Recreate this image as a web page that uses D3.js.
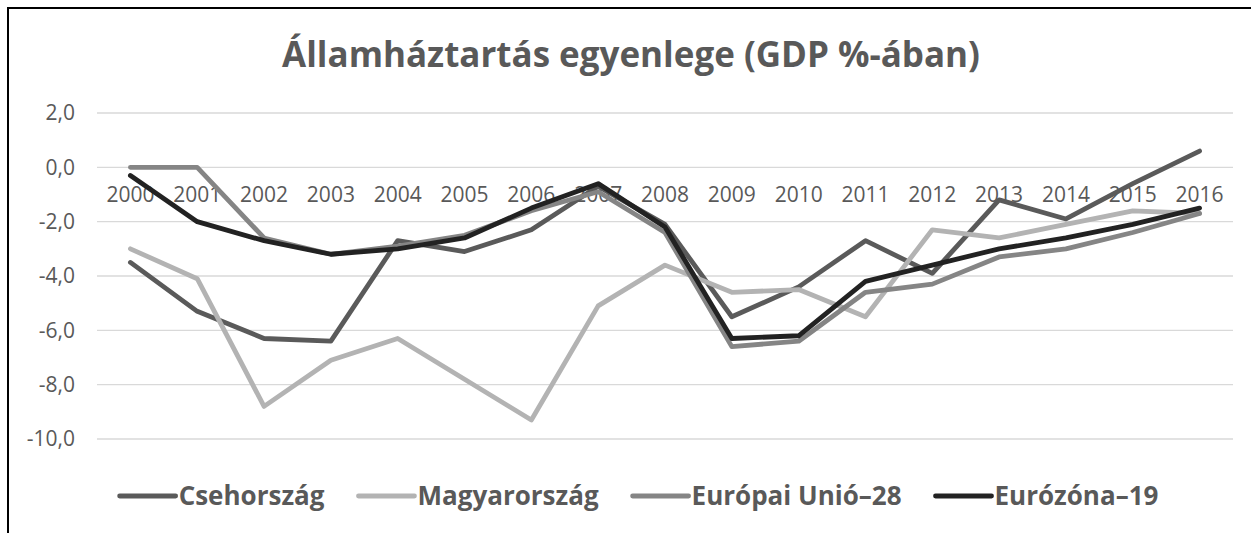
<!DOCTYPE html>
<html>
<head>
<meta charset="utf-8">
<script src="https://cdn.jsdelivr.net/npm/d3@7"></script>
<style>
  body { margin: 0; background: #fff; }
  svg { display: block; font-family: "Open Sans", "DejaVu Sans", sans-serif; }
</style>
</head>
<body>
<div id="chartArea"></div>
<script>
// Államháztartás egyenlege - line chart

var years = ["2000","2001","2002","2003","2004","2005","2006","2007","2008",
             "2009","2010","2011","2012","2013","2014","2015","2016"];

var cseh   = [-3.5,-5.3,-6.3,-6.4,-2.7,-3.1,-2.3,-0.7,-2.1,-5.5,-4.4,-2.7,-3.9,-1.2,-1.9,-0.6, 0.6];
var magyar = [-3.0,-4.1,-8.8,-7.1,-6.3,-7.8,-9.3,-5.1,-3.6,-4.6,-4.5,-5.5,-2.3,-2.6,-2.1,-1.6,-1.7];
var eu28   = [ 0.0, 0.0,-2.6,-3.2,-2.9,-2.5,-1.6,-0.9,-2.4,-6.6,-6.4,-4.6,-4.3,-3.3,-3.0,-2.4,-1.7];
var ez19   = [-0.3,-2.0,-2.7,-3.2,-3.0,-2.6,-1.5,-0.6,-2.2,-6.3,-6.2,-4.2,-3.6,-3.0,-2.6,-2.1,-1.5];

var seriesNames = ["Csehország", "Magyarország", "Európai Unió–28", "Eurózóna–19"];
var yTicks = [2, 0, -2, -4, -6, -8, -10];

var title = "Államháztartás egyenlege (GDP %-ában)";

(function() {
    var width = 1251, height = 533;
    var colors = ["#5a5a5a", "#b3b3b3", "#858585", "#222222"];
    var allSeries = [cseh, magyar, eu28, ez19];

    var svg = d3.select("#chartArea").append("svg")
        .attr("width", width)
        .attr("height", height);

    // frame (only top and left edges visible in the crop)
    svg.append("rect")
        .attr("x", 8).attr("y", 8)
        .attr("width", 1400).attr("height", 700)
        .attr("fill", "none")
        .attr("stroke", "#000")
        .attr("stroke-width", 2);

    // scales
    var x = d3.scaleBand()
        .domain(years)
        .range([97, 1233]);
    var y = d3.scaleLinear()
        .domain([-10, 2])
        .range([439, 113]);

    var fmt = function(v) { return v.toFixed(1).replace(".", ","); };

    // gridlines
    svg.append("g")
        .selectAll("line")
        .data(yTicks)
        .enter().append("line")
        .attr("x1", x.range()[0])
        .attr("x2", x.range()[1])
        .attr("y1", function(d) { return y(d); })
        .attr("y2", function(d) { return y(d); })
        .attr("stroke", "#d9d9d9")
        .attr("stroke-width", 1.3);

    // y axis
    var yAxis = svg.append("g")
        .attr("transform", "translate(97,0)")
        .call(d3.axisLeft(y).tickValues(yTicks).tickFormat(fmt).tickSize(0).tickPadding(22));
    yAxis.select(".domain").remove();
    yAxis.selectAll("text")
        .attr("fill", "#595959")
        .attr("font-size", "21px")
        .attr("font-family", "Open Sans");

    // x axis sits at zero, labels next to it
    var xAxis = svg.append("g")
        .attr("transform", "translate(0," + y(0) + ")")
        .call(d3.axisBottom(x).tickSize(0).tickPadding(20));
    xAxis.select(".domain").remove();
    xAxis.selectAll("text")
        .attr("fill", "#595959")
        .attr("font-size", "21px")
        .attr("font-family", "Open Sans");

    // lines
    var line = d3.line()
        .x(function(d, i) { return x(years[i]) + x.bandwidth() / 2; })
        .y(function(d) { return y(d); });

    svg.append("g")
        .selectAll("path")
        .data(allSeries)
        .enter().append("path")
        .attr("d", line)
        .attr("fill", "none")
        .attr("stroke", function(d, i) { return colors[i]; })
        .attr("stroke-width", 4.8)
        .attr("stroke-linejoin", "round")
        .attr("stroke-linecap", "round");

    // title
    var t = svg.append("text")
        .attr("x", 631)
        .attr("y", 67)
        .attr("text-anchor", "middle")
        .attr("font-weight", "bold")
        .attr("font-size", "40px")
        .attr("fill", "#595959")
        .text(title);
    var tw = t.node().getComputedTextLength();
    t.attr("font-size", (40 * 698 / tw) + "px");

    // legend
    var swatch = 56, gapText = 3, gapItem = 34;
    var lg = svg.append("g");
    var items = lg.selectAll("g")
        .data(seriesNames)
        .enter().append("g");
    items.append("line")
        .attr("x1", 0).attr("x2", swatch)
        .attr("y1", 0).attr("y2", 0)
        .attr("stroke", function(d, i) { return colors[i]; })
        .attr("stroke-width", 4.8)
        .attr("stroke-linecap", "round");
    items.append("text")
        .attr("x", swatch + gapText)
        .attr("y", 9)
        .attr("font-weight", "bold")
        .attr("font-size", "26px")
        .attr("fill", "#595959")
        .text(function(d) { return d; });

    var pos = 0;
    items.each(function() {
        var g = d3.select(this);
        var w = g.select("text").node().getComputedTextLength();
        g.attr("transform", "translate(" + pos + ",0)");
        pos += swatch + gapText + w + gapItem;
    });
    var total = pos - gapItem;
    lg.attr("transform", "translate(" + (639 - total / 2) + ",496)");
})();
</script>
</body>
</html>
